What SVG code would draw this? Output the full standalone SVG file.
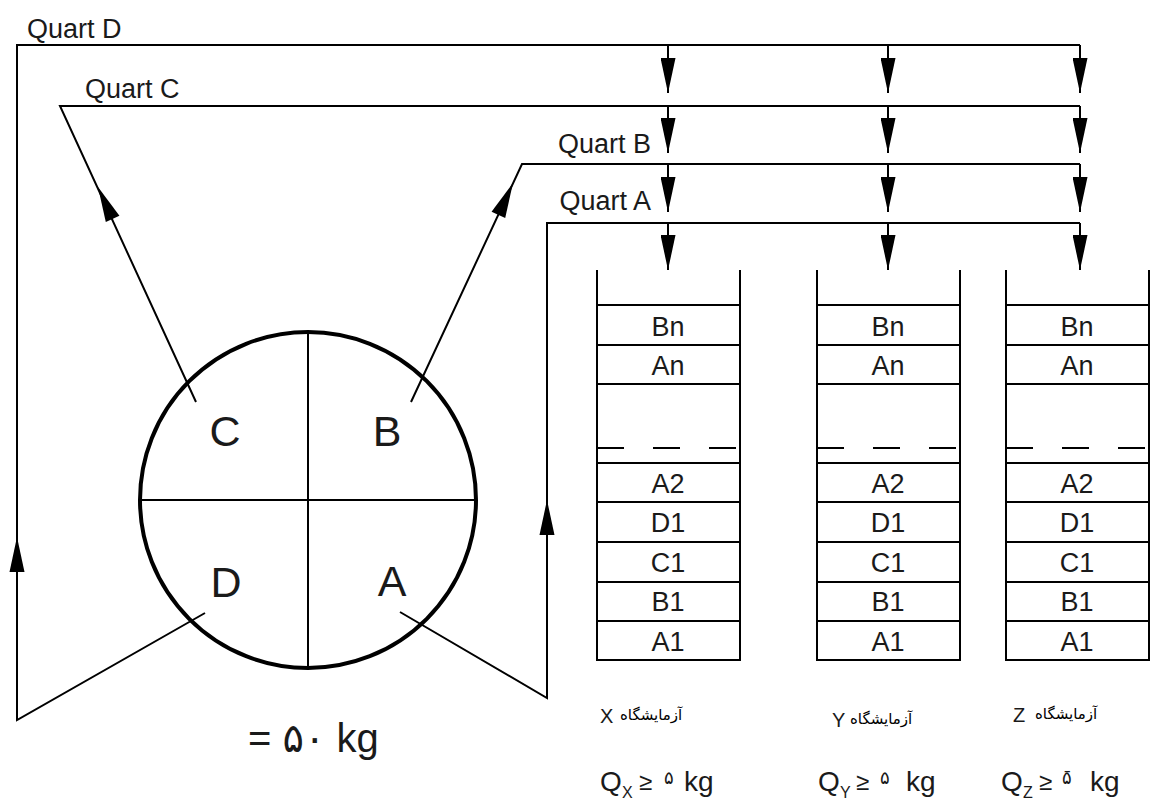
<svg xmlns="http://www.w3.org/2000/svg" xmlns:xlink="http://www.w3.org/1999/xlink" width="1151" height="799" viewBox="0 0 1151 799">
<style>
.ln{fill:none;stroke:#000;stroke-width:2}
.st{fill:none;stroke:#000;stroke-width:2}
.dash{fill:none;stroke:#000;stroke-width:2;stroke-dasharray:27 29}
.t{font-family:"Liberation Sans","DejaVu Sans",sans-serif;fill:#1a1a1a}
.q{font-size:27px}
.s{font-size:27px;text-anchor:middle}
.big{font-size:43px;text-anchor:middle}
.fa{font-family:"DejaVu Sans","Noto Sans",sans-serif;fill:#000;font-size:15px}
</style>
<defs>
<path id="ah" d="M0,0 L-7.5,-35 L7.5,-35 Z" fill="#000"/>
<marker id="m" markerUnits="userSpaceOnUse" viewBox="0 0 35 15" refX="35" refY="7.5" markerWidth="35" markerHeight="15" orient="auto">
<path d="M0,0 L35,7.5 L0,15 Z" fill="#000"/>
</marker>
<g id="stackbody">
<line class="st" x1="0" y1="270" x2="0" y2="661"/>
<line class="st" x1="143" y1="270" x2="143" y2="661"/>
<path class="st" d="M0,305H143M0,345H143M0,384H143M0,463H143M0,502H143M0,542H143M0,582H143M0,621H143M0,660H143"/>
<line class="dash" x1="0" y1="448" x2="143" y2="448"/>
</g>
</defs>
<rect width="1151" height="799" fill="#fff"/>

<g id="connectors">
<path class="ln" d="M205,613 L17,720 L17,45 L1080,45"/>
<path class="ln" d="M196,402 L60,106 L1080,106"/>
<path class="ln" d="M411,402 L522,164 L1080,164"/>
<path class="ln" d="M400,612 L547,698 L547,223 L1080,223"/>
<g class="ln" marker-end="url(#m)">
<line x1="668" y1="45" x2="668" y2="93"/><line x1="888" y1="45" x2="888" y2="93"/><line x1="1080" y1="45" x2="1080" y2="93"/>
<line x1="668" y1="106" x2="668" y2="153"/><line x1="888" y1="106" x2="888" y2="153"/><line x1="1080" y1="106" x2="1080" y2="153"/>
<line x1="668" y1="164" x2="668" y2="212"/><line x1="888" y1="164" x2="888" y2="212"/><line x1="1080" y1="164" x2="1080" y2="212"/>
<line x1="668" y1="223" x2="668" y2="270"/><line x1="888" y1="223" x2="888" y2="270"/><line x1="1080" y1="223" x2="1080" y2="270"/>
</g>
<use xlink:href="#ah" transform="translate(17,537) rotate(180)"/>
<use xlink:href="#ah" transform="translate(547,500) rotate(180)"/>
<use xlink:href="#ah" transform="translate(98,187) rotate(155.3)"/>
<use xlink:href="#ah" transform="translate(513,183) rotate(-155.3)"/>
<text class="t q" x="27" y="38">Quart D</text>
<text class="t q" x="85" y="98">Quart C</text>
<text class="t q" x="651" y="153" text-anchor="end">Quart B</text>
<text class="t q" x="651" y="210" text-anchor="end">Quart A</text>
</g>

<g id="sample">
<circle cx="308" cy="500" r="168" fill="none" stroke="#000" stroke-width="4"/>
<line class="ln" x1="308" y1="332" x2="308" y2="668"/>
<line class="ln" x1="140" y1="500" x2="476" y2="500"/>
<text class="t big" x="225" y="446">C</text>
<text class="t big" x="387" y="446">B</text>
<text class="t big" x="226" y="597">D</text>
<text class="t big" x="392" y="596">A</text>
<text class="t" x="248" y="752" font-size="40px">= ۵۰ kg</text>
</g>

<g id="stack-x">
<use xlink:href="#stackbody" transform="translate(597,0)"/>
<g class="t s">
<text x="668" y="336">Bn</text><text x="668" y="375">An</text><text x="668" y="493">A2</text><text x="668" y="532">D1</text><text x="668" y="572">C1</text><text x="668" y="611">B1</text><text x="668" y="651">A1</text>
</g>
<text class="t" x="600" y="723" font-size="20px">X</text>
<text class="fa" x="620" y="720">آزمایشگاه</text>
<text class="t" x="600" y="791" font-size="28px">Q</text>
<text class="t" x="622" y="798" font-size="16px">X</text>
<text class="t" x="639" y="790" font-size="24px">≥</text>
<text class="t" x="664" y="784" font-size="18px">۵</text>
<text class="t" x="684" y="791" font-size="28px">kg</text>
</g>

<g id="stack-y">
<use xlink:href="#stackbody" transform="translate(817,0)"/>
<g class="t s">
<text x="888" y="336">Bn</text><text x="888" y="375">An</text><text x="888" y="493">A2</text><text x="888" y="532">D1</text><text x="888" y="572">C1</text><text x="888" y="611">B1</text><text x="888" y="651">A1</text>
</g>
<text class="t" x="832" y="727" font-size="20px">Y</text>
<text class="fa" x="850" y="724">آزمایشگاه</text>
<text class="t" x="818" y="791" font-size="28px">Q</text>
<text class="t" x="840" y="798" font-size="16px">Y</text>
<text class="t" x="856" y="790" font-size="24px">≥</text>
<text class="t" x="880" y="784" font-size="18px">۵</text>
<text class="t" x="906" y="791" font-size="28px">kg</text>
</g>

<g id="stack-z">
<use xlink:href="#stackbody" transform="translate(1006,0)"/>
<g class="t s">
<text x="1077" y="336">Bn</text><text x="1077" y="375">An</text><text x="1077" y="493">A2</text><text x="1077" y="532">D1</text><text x="1077" y="572">C1</text><text x="1077" y="611">B1</text><text x="1077" y="651">A1</text>
</g>
<text class="t" x="1013" y="722" font-size="20px">Z</text>
<text class="fa" x="1035" y="719">آزمایشگاه</text>
<text class="t" x="1001" y="791" font-size="28px">Q</text>
<text class="t" x="1023" y="798" font-size="16px">Z</text>
<text class="t" x="1039" y="790" font-size="24px">≥</text>
<text class="t" x="1062" y="784" font-size="18px">۵̄</text>
<text class="t" x="1090" y="791" font-size="28px">kg</text>
</g>
</svg>
